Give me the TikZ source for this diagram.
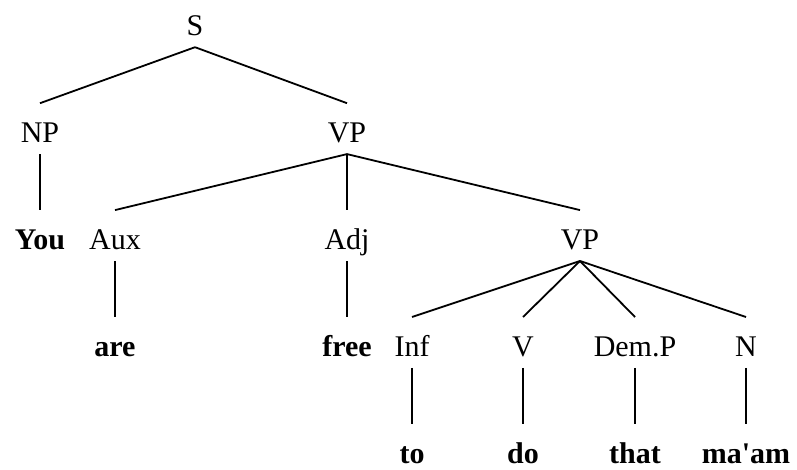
\documentclass[tikz,border=0pt]{standalone}
\usepackage{fontspec}
\setmainfont{Liberation Serif}
\usetikzlibrary{positioning}
\tikzset{
    %Define style for category labels
    cat/.style={
           inner sep=0pt,
           text height=39.5pt,
           text depth=11pt,
           font=\fontsize{30}{36}\selectfont},
    %Define style for the words
    leaf/.style={
           cat,
           text depth=3pt,
           font=\fontsize{30}{36}\selectfont\bfseries},
    % Define branch style
    branch/.style={
           -,
           line width=1.8pt,}
}
\begin{document}
\begin{tikzpicture}[node distance=56pt]
	\useasboundingbox (0,0) rectangle (797pt,-470pt);
	%
	% nodes
	%
	\node[cat, anchor=base] (s) at (195pt,-36pt) {S};
	\node[cat, below=of s, xshift=-155pt] (np) {NP};
	\node[cat, below=of s, xshift=152pt] (vp) {VP};
	\node[leaf, below=of np] (you) {You};
	\node[cat, below=of vp, xshift=-232pt] (aux) {Aux};
	\node[cat, below=of vp] (adj) {Adj};
	\node[cat, below=of vp, xshift=233pt] (vpb) {VP};
	\node[leaf, below=of aux] (are) {are};
	\node[leaf, below=of adj] (free) {free};
	\node[cat, below=of vpb, xshift=-168pt] (inf) {Inf};
	\node[cat, below=of vpb, xshift=-57pt] (v) {V};
	\node[cat, below=of vpb, xshift=55pt] (dem) {Dem.P};
	\node[cat, below=of vpb, xshift=166pt] (n) {N};
	\node[leaf, below=of inf] (to) {to};
	\node[leaf, below=of v] (do) {do};
	\node[leaf, below=of dem] (that) {that};
	\node[leaf, below=of n] (maam) {ma\textquotesingle am};
	%
	% branches
	%
	\foreach \c in {np,vp} \draw[branch] (s.south) -- (\c.north);
	\draw[branch] (np.south) -- (you.north);
	\foreach \c in {aux,adj,vpb} \draw[branch] (vp.south) -- (\c.north);
	\draw[branch] (aux.south) -- (are.north);
	\draw[branch] (adj.south) -- (free.north);
	\foreach \c in {inf,v,dem,n} \draw[branch] (vpb.south) -- (\c.north);
	\draw[branch] (inf.south) -- (to.north);
	\draw[branch] (v.south) -- (do.north);
	\draw[branch] (dem.south) -- (that.north);
	\draw[branch] (n.south) -- (maam.north);
\end{tikzpicture}
\end{document}
